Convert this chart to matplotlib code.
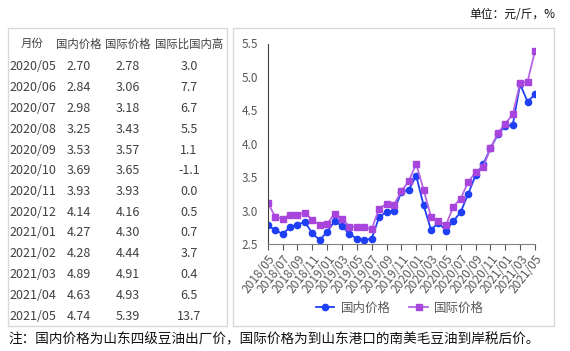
import numpy as np
import pandas as pd
import matplotlib
matplotlib.use('Agg')
from matplotlib import pyplot as plt
from matplotlib.patches import Rectangle

plt.rcParams['font.family'] = ['Noto Sans CJK SC', 'DejaVu Sans']

# chart data, monthly 2018/05 .. 2021/05
chart_months = [p.strftime('%Y/%m') for p in pd.period_range('2018-05', '2021-05', freq='M')]
domestic = [2.78, 2.71, 2.65, 2.75, 2.79, 2.83, 2.66, 2.56, 2.68, 2.84, 2.77, 2.65,
            2.58, 2.56, 2.58, 2.90, 2.98, 2.99, 3.28, 3.31, 3.52, 3.08, 2.71, 2.82,
            2.70, 2.84, 2.98, 3.25, 3.53, 3.69, 3.93, 4.14, 4.27, 4.28, 4.89, 4.63, 4.74]
international = [3.12, 2.91, 2.88, 2.94, 2.94, 2.97, 2.86, 2.79, 2.80, 2.95, 2.88, 2.76,
                 2.75, 2.75, 2.72, 3.03, 3.10, 3.09, 3.29, 3.44, 3.70, 3.31, 2.90, 2.84,
                 2.78, 3.06, 3.18, 3.43, 3.57, 3.65, 3.93, 4.16, 4.30, 4.44, 4.91, 4.93, 5.39]

# table data
table_header = ['月份', '国内价格', '国际价格', '国际比国内高']
table_months = ['2020/05', '2020/06', '2020/07', '2020/08', '2020/09', '2020/10', '2020/11',
                '2020/12', '2021/01', '2021/02', '2021/03', '2021/04', '2021/05']
table_domestic = ['2.70', '2.84', '2.98', '3.25', '3.53', '3.69', '3.93',
                  '4.14', '4.27', '4.28', '4.89', '4.63', '4.74']
table_international = ['2.78', '3.06', '3.18', '3.43', '3.57', '3.65', '3.93',
                       '4.16', '4.30', '4.44', '4.91', '4.93', '5.39']
table_gap = ['3.0', '7.7', '6.7', '5.5', '1.1', '-1.1', '0.0',
             '0.5', '0.7', '3.7', '0.4', '6.5', '13.7']

W, H = 570, 351
BLUE = '#1F3FF5'
PURPLE = '#A845DC'
TXT = '#404040'


def fx(px):
    return px / W


def fy(py):
    return 1 - py / H


fig = plt.figure(figsize=(W / 100, H / 100), dpi=100)

# boxes around table and chart
for x0, x1 in [(8, 227), (233, 554)]:
    fig.patches.append(Rectangle((fx(x0), fy(326)), fx(x1) - fx(x0), fy(28) - fy(326),
                                 transform=fig.transFigure, fill=False,
                                 edgecolor='#D9D9D9', linewidth=1.0))

# table
col_x = [32, 79, 128, 189]
for j in range(4):
    fig.text(fx(col_x[j]), fy(44), table_header[j], ha='center', va='center', fontsize=8.2, color=TXT)
for i in range(len(table_months)):
    y = fy(67 + i * 20.75)
    fig.text(fx(9), y, table_months[i], ha='left', va='center', fontsize=9, color=TXT)
    fig.text(fx(col_x[1]), y, table_domestic[i], ha='center', va='center', fontsize=9, color=TXT)
    fig.text(fx(col_x[2]), y, table_international[i], ha='center', va='center', fontsize=9, color=TXT)
    fig.text(fx(col_x[3]), y, table_gap[i], ha='center', va='center', fontsize=9, color=TXT)

# chart
ax = fig.add_axes([fx(267.7), fy(244), fx(535) - fx(267.7), fy(43.5) - fy(244)])
x = np.arange(len(chart_months))
ax.plot(x, domestic, color=BLUE, marker='o', markersize=4.5, linewidth=1.3, label='国内价格')
ax.plot(x, international, color='#B565E3', marker='s', markersize=4.5, linewidth=1.3,
        markerfacecolor=PURPLE, markeredgecolor=PURPLE, label='国际价格')
ax.set_xlim(0, len(chart_months) - 1)
ax.set_ylim(2.5, 5.5)
ax.set_yticks(np.arange(2.5, 5.51, 0.5))
ax.set_yticklabels([f'{v:.1f}' for v in np.arange(2.5, 5.51, 0.5)])
ax.set_xticks(x[::2])
ax.set_xticklabels(chart_months[::2], rotation=52, ha='right', rotation_mode='anchor')
ax.tick_params(axis='y', length=0, pad=7, labelsize=8.5, labelcolor='#595959')
ax.tick_params(axis='x', length=4, width=0.8, color='#595959', labelsize=8.6, labelcolor='#595959', pad=2)
for s in ['top', 'right']:
    ax.spines[s].set_visible(False)
ax.spines['left'].set_color('#404040')
ax.spines['bottom'].set_color('#808080')
ax.patch.set_alpha(0)
for lbl in ax.get_xticklabels() + ax.get_yticklabels():
    lbl.set_clip_on(False)

fig.legend(loc='center', bbox_to_anchor=(fx(400), fy(308)), ncol=2, frameon=False,
           fontsize=9, handlelength=1.5, columnspacing=1.5, handletextpad=0.5,
           labelcolor='#595959')

fig.text(fx(555), fy(15), '单位：元/斤，%', ha='right', va='center', fontsize=8.5, color='#111111')
fig.text(fx(8), fy(339), '注：国内价格为山东四级豆油出厂价，国际价格为到山东港口的南美毛豆油到岸税后价。',
         ha='left', va='center', fontsize=9.8, color='#111111')

plt.savefig('out.png', dpi=100)
